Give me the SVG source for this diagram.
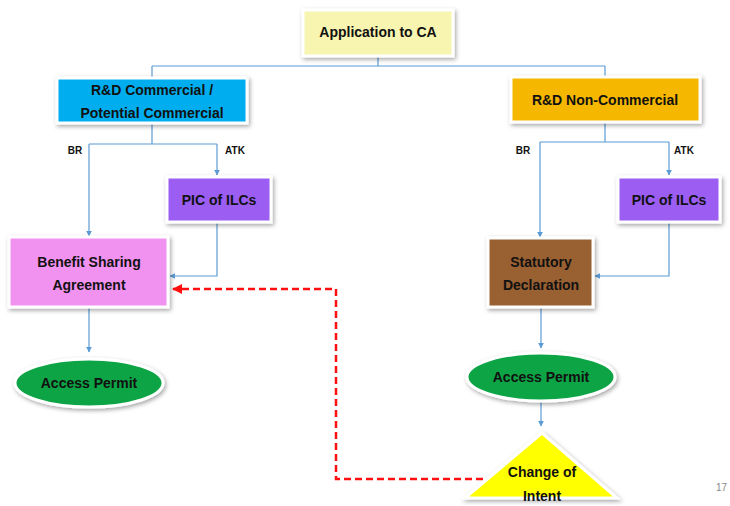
<svg xmlns="http://www.w3.org/2000/svg" width="730" height="506" viewBox="0 0 730 506">
<style>
.lbl{font-family:"Liberation Sans",Arial,sans-serif;font-weight:bold;font-size:14px;fill:#111;text-anchor:middle;dominant-baseline:central}
.sm{font-family:"Liberation Sans",Arial,sans-serif;font-weight:bold;font-size:10px;fill:#111;text-anchor:middle;dominant-baseline:central}
.box{stroke:#fff;stroke-width:3;filter:url(#sh)}
.con{fill:none;stroke:#5B9BD5;stroke-width:1.2}
.dash{fill:none;stroke:#FF1010;stroke-width:2.5;stroke-dasharray:7 4}
</style>
<defs>
<filter id="sh" x="-20%" y="-20%" width="140%" height="150%">
<feDropShadow dx="1.5" dy="2" stdDeviation="2" flood-color="#000" flood-opacity="0.35"/>
</filter>
<marker id="ab" viewBox="0 0 10 10" refX="9" refY="5" markerWidth="6" markerHeight="6" orient="auto" markerUnits="userSpaceOnUse">
<path d="M0,0 L10,5 L0,10 z" fill="#5B9BD5"/>
</marker>
<marker id="ar" viewBox="0 0 10 10" refX="9" refY="5" markerWidth="10" markerHeight="10" orient="auto" markerUnits="userSpaceOnUse">
<path d="M0,0 L10,5 L0,10 z" fill="#FF1010"/>
</marker>
</defs>
<rect width="730" height="506" fill="#fff"/>

<g id="connectors">
<path class="con" d="M378,56 V66 M152,66 H605 M152,66 V78 M605,66 V77"/>
<path class="con" d="M152,123 V144 M89,144 H217"/>
<path class="con" d="M89,144 V236" marker-end="url(#ab)"/>
<path class="con" d="M217,144 V175" marker-end="url(#ab)"/>
<path class="con" d="M217,222 V276 H170" marker-end="url(#ab)"/>
<path class="con" d="M89,307 V352" marker-end="url(#ab)"/>
<path class="con" d="M605,122 V142 M540,142 H669"/>
<path class="con" d="M540,142 V237" marker-end="url(#ab)"/>
<path class="con" d="M669,142 V175" marker-end="url(#ab)"/>
<path class="con" d="M669,222 V276 H595" marker-end="url(#ab)"/>
<path class="con" d="M541,307 V348" marker-end="url(#ab)"/>
<path class="con" d="M541,401 V426" marker-end="url(#ab)"/>
<path class="dash" d="M483,479 H336 V289 H173" marker-end="url(#ar)"/>
</g>

<g id="app">
<rect class="box" x="303" y="10" width="150" height="46" fill="#F7F5B0"/>
<text class="lbl" x="378" y="32">Application to CA</text>
</g>

<g id="rdc">
<rect class="box" x="57" y="78" width="190" height="45" fill="#00AEEF"/>
<text class="lbl" x="152" y="90">R&amp;D Commercial /</text>
<text class="lbl" x="152" y="113">Potential Commercial</text>
</g>

<g id="rdn">
<rect class="box" x="511" y="77" width="189" height="45" fill="#F5B700"/>
<text class="lbl" x="605" y="100">R&amp;D Non-Commercial</text>
</g>

<g id="lbls">
<text class="sm" x="75" y="150">BR</text>
<text class="sm" x="235" y="150">ATK</text>
<text class="sm" x="523" y="150">BR</text>
<text class="sm" x="684" y="150">ATK</text>
</g>

<g id="picl">
<rect class="box" x="167" y="177" width="104" height="45" fill="#9B5DF2"/>
<text class="lbl" x="219" y="200">PIC of ILCs</text>
</g>

<g id="picr">
<rect class="box" x="618" y="177" width="102" height="45" fill="#9B5DF2"/>
<text class="lbl" x="669" y="200">PIC of ILCs</text>
</g>

<g id="bsa">
<rect class="box" x="9" y="237" width="159" height="70" fill="#F292F0"/>
<text class="lbl" x="89" y="262">Benefit Sharing</text>
<text class="lbl" x="89" y="285">Agreement</text>
</g>

<g id="sd">
<rect class="box" x="488" y="238" width="105" height="69" fill="#996131"/>
<text class="lbl" x="541" y="262">Statutory</text>
<text class="lbl" x="541" y="285">Declaration</text>
</g>

<g id="apl">
<ellipse class="box" cx="89" cy="383" rx="74" ry="24" fill="#0DA445"/>
<text class="lbl" x="89" y="383">Access Permit</text>
</g>

<g id="apr">
<ellipse class="box" cx="541" cy="377" rx="74" ry="24" fill="#0DA445"/>
<text class="lbl" x="541" y="377">Access Permit</text>
</g>

<g id="coi">
<polygon class="box" points="542,433 617,498 465,498" fill="#FFFF00"/>
<text class="lbl" x="542" y="472">Change of</text>
<text class="lbl" x="542" y="496">Intent</text>
</g>

<text x="716" y="491" font-family="Liberation Sans,Arial,sans-serif" font-size="10" fill="#888">17</text>
</svg>
